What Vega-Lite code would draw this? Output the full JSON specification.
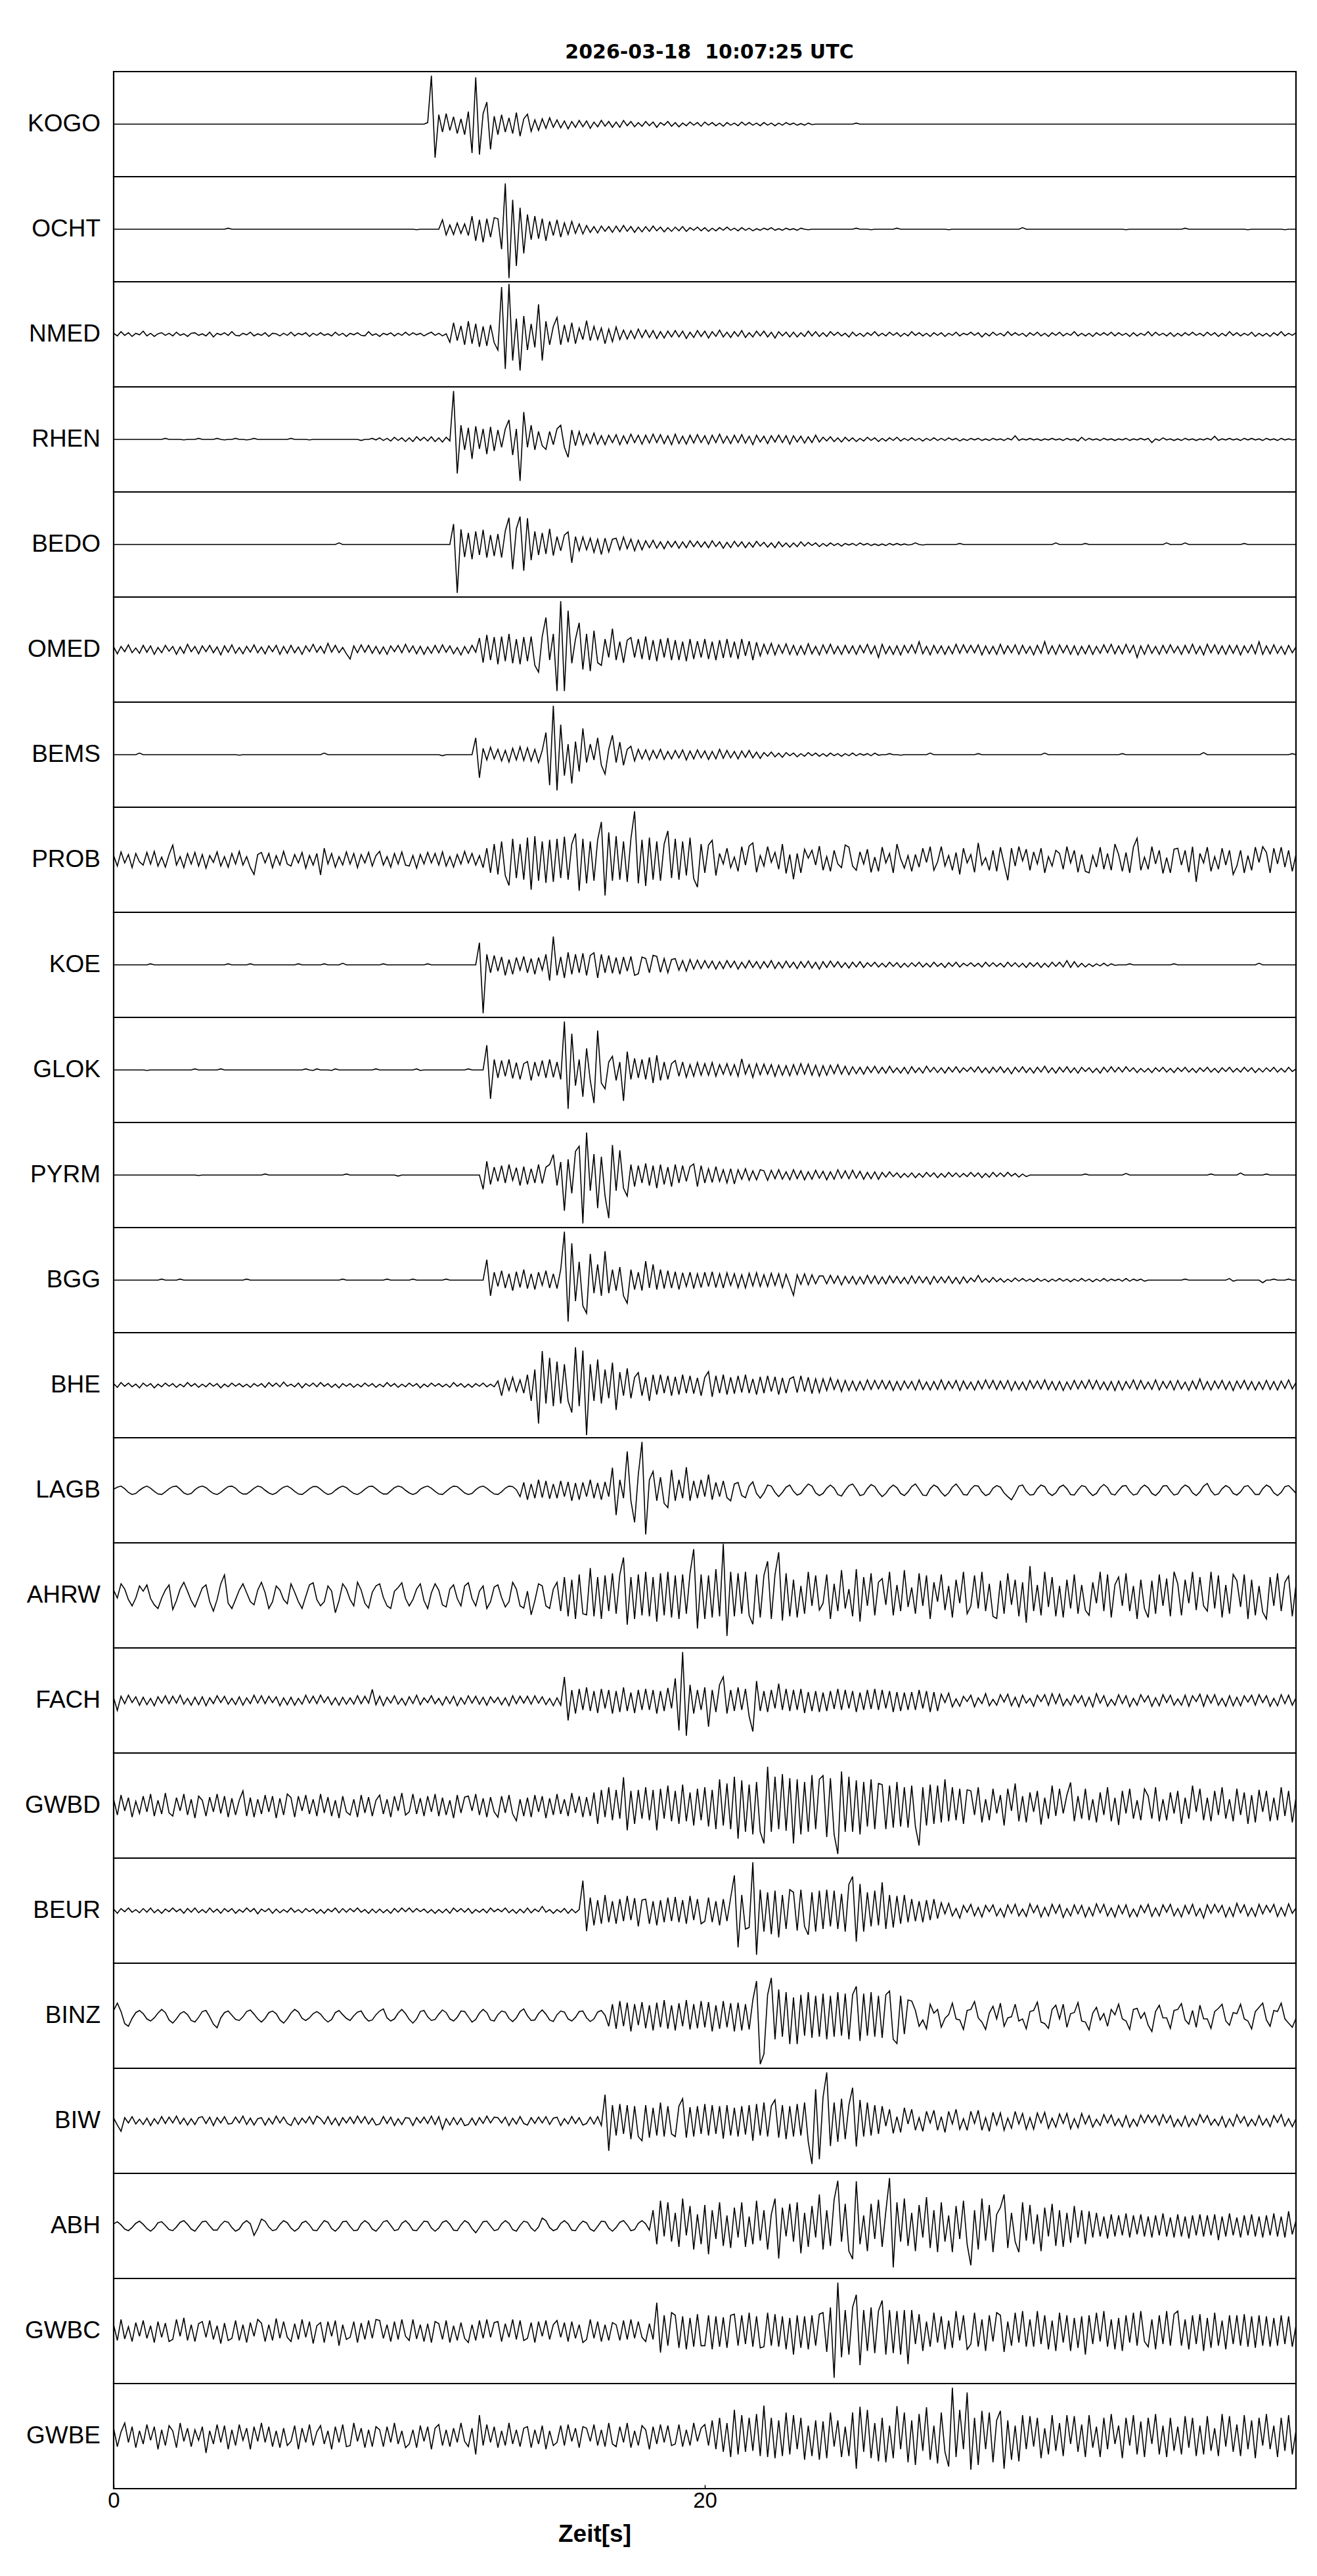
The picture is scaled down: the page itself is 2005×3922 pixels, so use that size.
{
"$schema": "https://vega.github.io/schema/vega-lite/v6.json",
"background": "white",
"bounds": "flush",
"padding": {"left": 37, "top": 64, "right": 30, "bottom": 10},
"title": {"text": "2026-03-18 \u00a010:07:25 UTC", "font": "DejaVu Sans", "fontSize": 30, "fontWeight": "bold", "color": "black", "anchor": "middle", "frame": "group", "dx": 907, "offset": 13},
"config": {"view": {"stroke": "black", "strokeWidth": 2.2}, "font": "Liberation Sans"},
"data": {"values": [{
"t": [0,0.125,0.25,0.375,0.5,0.625,0.75,0.875,
1,1.125,1.25,1.375,1.5,1.625,1.75,1.875,
2,2.125,2.25,2.375,2.5,2.625,2.75,2.875,
3,3.125,3.25,3.375,3.5,3.625,3.75,3.875,
4,4.125,4.25,4.375,4.5,4.625,4.75,4.875,
5,5.125,5.25,5.375,5.5,5.625,5.75,5.875,
6,6.125,6.25,6.375,6.5,6.625,6.75,6.875,
7,7.125,7.25,7.375,7.5,7.625,7.75,7.875,
8,8.125,8.25,8.375,8.5,8.625,8.75,8.875,
9,9.125,9.25,9.375,9.5,9.625,9.75,9.875,
10,10.125,10.25,10.375,10.5,10.625,10.75,10.875,
11,11.125,11.25,11.375,11.5,11.625,11.75,11.875,
12,12.125,12.25,12.375,12.5,12.625,12.75,12.875,
13,13.125,13.25,13.375,13.5,13.625,13.75,13.875,
14,14.125,14.25,14.375,14.5,14.625,14.75,14.875,
15,15.125,15.25,15.375,15.5,15.625,15.75,15.875,
16,16.125,16.25,16.375,16.5,16.625,16.75,16.875,
17,17.125,17.25,17.375,17.5,17.625,17.75,17.875,
18,18.125,18.25,18.375,18.5,18.625,18.75,18.875,
19,19.125,19.25,19.375,19.5,19.625,19.75,19.875,
20,20.125,20.25,20.375,20.5,20.625,20.75,20.875,
21,21.125,21.25,21.375,21.5,21.625,21.75,21.875,
22,22.125,22.25,22.375,22.5,22.625,22.75,22.875,
23,23.125,23.25,23.375,23.5,23.625,23.75,23.875,
24,24.125,24.25,24.375,24.5,24.625,24.75,24.875,
25,25.125,25.25,25.375,25.5,25.625,25.75,25.875,
26,26.125,26.25,26.375,26.5,26.625,26.75,26.875,
27,27.125,27.25,27.375,27.5,27.625,27.75,27.875,
28,28.125,28.25,28.375,28.5,28.625,28.75,28.875,
29,29.125,29.25,29.375,29.5,29.625,29.75,29.875,
30,30.125,30.25,30.375,30.5,30.625,30.75,30.875,
31,31.125,31.25,31.375,31.5,31.625,31.75,31.875,
32,32.125,32.25,32.375,32.5,32.625,32.75,32.875,
33,33.125,33.25,33.375,33.5,33.625,33.75,33.875,
34,34.125,34.25,34.375,34.5,34.625,34.75,34.875,
35,35.125,35.25,35.375,35.5,35.625,35.75,35.875,
36,36.125,36.25,36.375,36.5,36.625,36.75,36.875,
37,37.125,37.25,37.375,37.5,37.625,37.75,37.875,
38,38.125,38.25,38.375,38.5,38.625,38.75,38.875,
39,39.125,39.25,39.375,39.5,39.625,39.75,39.875,
40],
"KOGO": [0,0,0,0,0,0,0,0,
0,0,0,0,0,0,0,0,
0,0,0,0,0,0,0,0,
0,0,0,0,0,0,0,0,
0,0,0,0,0,0,0,0,
0,0,0,0,0,0,0,0,
0,0,0,0,0,0,0,0,
0,0,0,0,0,0,0,0,
0,0,0,0,0,0,0,0,
0,0,0,0,0,0,0,0,
0,0,0,0,0,3,92,-64,
18,-15,20,-12,14,-18,10,-20,
24,-55,89,-58,20,42,-48,15,
-20,18,-15,12,-18,22,-23,10,
19,-14,8,-12,10,-8,12,-6,
8,-7,6,-9,5,-6,7,-5,
6,-8,4,-5,7,-4,5,-6,
4,-6,7,-3,5,-5,3,-4,
5,-3,4,-6,3,-2,5,-4,
3,-5,2,-3,4,-2,3,-4,
4,-2,3,-3,2,-4,3,-2,
2,-3,4,-2,3,-2,2,-3,
3,-2,2,-3,2,-2,3,-1,
2,-2,1,-2,2,-1,0,0,
0,0,0,0,0,0,0,0,
0,2,0,0,0,0,0,0,
0,0,0,0,0,0,0,0,
0,0,0,0,0,0,0,0,
0,0,0,0,0,0,0,0,
0,0,0,0,0,0,0,0,
0,0,0,0,0,0,0,0,
0,0,0,0,0,0,0,0,
0,0,0,0,0,0,0,0,
0,0,0,0,0,0,0,0,
0,0,0,0,0,0,0,0,
0,0,0,0,0,0,0,0,
0,0,0,0,0,0,0,0,
0,0,0,0,0,0,0,0,
0,0,0,0,0,0,0,0,
0,0,0,0,0,0,0,0,
0],
"OCHT": [0,0,0,0,0,0,0,0,
0,0,0,0,0,0,0,0,
0,0,0,0,0,0,0,0,
0,0,0,0,0,0,0,2,
0,0,0,0,0,0,0,0,
0,0,0,0,0,0,0,0,
0,0,0,0,0,0,0,0,
0,0,0,0,0,0,0,0,
0,0,0,0,0,0,0,0,
0,0,0,0,0,0,0,0,
0,0,-1,0,0,0,0,0,
0,18,-11,8,-10,12,-8,10,
-12,25,-22,18,-25,20,-15,22,
20,-38,87,-93,56,-70,41,-46,
28,-20,25,-18,20,-22,15,-12,
18,-15,12,-10,15,-8,10,-9,
7,-6,5,-7,6,-4,5,-6,
6,-5,7,-4,5,-6,4,-5,
5,-4,6,-3,4,-5,3,-4,
4,-3,5,-4,3,-2,4,-3,
3,-4,2,-3,3,-2,4,-2,
2,-3,3,-2,2,-3,1,-2,
2,-1,3,-2,1,-2,2,-1,
1,-2,2,0,-1,0,0,0,
0,0,0,0,0,0,0,0,
0,2,0,0,0,-1,0,0,
0,0,0,0,2,0,0,0,
0,0,0,0,0,0,0,0,
0,0,-1,0,0,0,0,0,
0,0,0,0,0,0,0,0,
0,0,0,0,0,0,3,0,
0,0,0,0,0,0,0,0,
0,0,0,0,0,0,0,0,
0,0,0,0,0,0,0,0,
0,0,-1,0,0,0,0,0,
0,0,0,0,0,0,0,0,
0,0,2,0,0,0,0,0,
0,0,0,0,0,0,0,0,
0,0,0,-1,0,0,0,0,
0,0,0,0,0,-1,0,0,
0],
"NMED": [2,-3,5,-2,3,-4,2,-1,
6,-3,2,-4,1,3,-2,2,
-3,4,-2,1,-4,2,3,-2,
1,-3,4,-5,2,-1,3,-2,
5,-2,-3,2,-1,4,-3,1,
-2,3,-4,2,1,-3,2,-2,
4,-3,2,-1,3,-4,2,-2,
3,-2,1,-3,4,-2,2,-4,
2,-1,3,-2,-3,5,-2,1,
-4,2,-1,3,-3,2,-2,4,
-2,3,-1,2,-3,1,4,-2,
2,-3,1,-15,22,-12,16,-20,
25,-18,20,-24,15,-22,18,-16,
-30,90,-66,96,-50,30,-69,35,
-30,20,-25,57,-50,25,-20,15,
32,-20,18,-15,22,-18,12,-10,
26,-12,15,-10,12,-18,10,-14,
14,-10,8,-9,7,-8,10,-6,
8,-6,7,-8,5,-7,6,-5,
7,-5,6,-8,4,-6,7,-4,
6,-7,5,-4,8,-5,4,-6,
5,-4,7,-6,3,-5,6,-3,
6,-5,4,-7,5,-3,4,-5,
4,-5,3,-4,6,-3,5,-4,
3,-4,5,-2,4,-3,2,-5,
4,-3,2,-4,3,-2,5,-3,
2,-3,4,-2,3,-4,2,-3,
5,-2,3,-3,2,-4,3,-2,
3,-4,2,-2,4,-3,2,-1,
4,-2,3,-5,2,-3,4,-2,
2,-3,5,-2,3,-2,2,-4,
3,-2,4,-3,2,-4,3,-2,
4,-3,2,-2,5,-3,2,-3,
2,-4,3,-2,3,-2,4,-3,
3,-2,2,-4,3,-3,2,-2,
5,-3,4,-2,2,-3,3,-4,
2,-3,3,-2,4,-2,2,-3,
4,-2,3,-4,2,-3,5,-2,
3,-3,2,-2,4,-4,2,-3,
2,-4,3,-2,5,-3,2,-2,
3],
"RHEN": [0,0,0,0,0,0,0,0,
0,0,0,0,0,0,2,0,
0,0,0,-1,0,0,0,2,
0,0,0,0,2,0,-1,0,
0,2,0,0,-1,0,2,0,
0,0,0,0,0,0,0,0,
2,0,0,0,0,-1,0,0,
0,0,0,0,0,0,0,0,
0,0,0,-2,0,0,2,-1,
3,-2,2,-3,4,-2,3,-4,
3,-4,5,-2,4,-3,5,-4,
3,-5,4,-3,92,-65,27,-20,
22,-37,25,-18,20,-28,24,-22,
18,-15,20,37,-30,20,-79,52,
-15,27,-20,15,-12,-19,15,-10,
20,27,-15,-34,18,-12,15,-10,
10,-8,12,-9,7,-10,8,-6,
9,-10,7,-8,10,-6,8,-9,
8,-7,10,-6,9,-8,7,-10,
10,-8,6,-9,8,-7,9,-6,
7,-9,8,-6,10,-7,6,-8,
8,-6,9,-7,6,-10,8,-5,
6,-8,7,-5,8,-6,7,-9,
7,-5,6,-7,5,-6,8,-5,
4,-3,5,-4,3,-5,4,-3,
3,-4,2,-3,4,-2,3,-4,
2,-3,3,-2,4,-3,2,-2,
3,-2,2,-3,2,-2,3,-2,
2,-2,3,-1,2,-3,1,-2,
2,-1,2,-2,1,-2,2,-1,
1,-2,2,-1,7,-2,1,-1,
2,-1,1,-2,1,-1,2,-1,
1,-2,2,-1,1,-3,4,-2,
2,-1,1,-2,2,-1,1,-2,
1,-1,2,-2,1,-1,2,-1,
2,-6,1,-2,3,-1,1,-2,
1,-2,2,-1,1,-2,1,-1,
2,-1,6,-2,1,-1,2,-1,
1,-2,2,-1,2,-1,1,-2,
2,-1,1,-2,2,-1,1,-1,
0],
"BEDO": [0,0,0,0,0,0,0,0,
0,0,0,0,0,0,0,0,
0,0,0,0,0,0,0,0,
0,0,0,0,0,0,0,0,
0,0,0,0,0,0,0,0,
0,0,0,0,0,0,0,0,
0,0,0,0,0,0,0,0,
0,0,0,0,0,3,0,0,
0,0,0,0,0,0,0,0,
0,0,0,0,0,0,0,0,
0,0,0,0,0,0,0,0,
0,0,0,0,39,-92,29,-24,
22,-28,25,-20,28,-25,18,-22,
20,-25,26,51,-47,30,53,-50,
50,-30,25,-20,22,-18,30,-21,
15,-12,18,24,-35,15,-12,14,
-10,12,-15,10,-19,12,-14,10,
12,-10,14,-8,10,-12,8,-10,
7,-6,8,-7,5,-8,6,-5,
6,-7,5,-6,7,-4,6,-5,
5,-6,7,-4,5,-7,4,-6,
6,-4,5,-6,4,-5,6,-3,
4,-5,3,-6,5,-4,3,-5,
3,-4,5,-3,4,-2,3,-4,
2,-3,3,-2,2,-3,2,-1,
2,-2,3,-1,2,-2,1,-2,
1,-2,2,-1,2,-1,1,-1,
0,3,0,-1,0,0,0,0,
0,0,0,0,0,2,0,0,
0,0,0,0,0,0,0,0,
0,0,0,0,0,0,0,0,
0,0,0,0,0,0,0,3,
0,0,0,0,0,0,0,2,
0,0,0,0,0,0,0,0,
0,0,0,0,0,0,0,0,
0,0,0,0,0,3,0,0,
0,0,3,0,0,0,0,0,
0,0,0,0,0,0,0,0,
0,0,2,0,0,0,0,0,
0,0,0,0,0,0,0,0,
0],
"OMED": [5,-8,6,-4,9,-6,3,-7,
8,-5,7,-9,4,-6,8,-3,
6,-9,5,-7,10,-4,6,-8,
7,-4,8,-6,5,-10,7,-5,
9,-7,4,-8,6,-5,9,-6,
5,-8,7,-4,8,-9,6,-7,
8,-6,5,-9,7,-4,10,-5,
6,-7,12,-5,8,-6,4,-8,
-18,7,-6,9,-5,8,-7,6,
-8,5,-9,7,-4,8,-6,10,
-5,7,-8,6,-9,5,-7,8,
-6,9,-5,7,-8,4,-10,6,
-7,8,-5,22,-25,28,-20,24,
-28,25,-22,30,-26,20,-28,24,
-22,25,-30,-43,25,61,-20,30,
-79,92,-79,74,-26,20,51,-38,
30,-41,36,-25,-30,20,-15,40,
-20,15,-25,18,23,-15,20,-18,
25,-20,18,-22,20,-15,22,-20,
18,-20,15,-22,20,-18,16,-15,
20,-18,15,-20,18,-16,20,-15,
15,-18,20,-12,16,-20,14,-12,
10,-8,12,-10,9,-7,11,-9,
8,-10,7,-9,11,-8,6,-10,
9,-7,10,-8,6,-9,8,-7,
7,-9,8,-6,10,-8,7,-15,
10,-8,6,-9,7,-10,8,-6,
9,-7,15,-8,6,-10,8,-7,
7,-9,6,-8,10,-7,9,-6,
8,-6,9,-10,7,-8,6,-9,
10,-8,7,-6,9,-9,8,-7,
6,-10,8,-7,15,-8,7,-9,
9,-6,8,-9,7,-10,6,-8,
8,-9,6,-7,9,-6,10,-8,
7,-8,10,-6,8,-15,7,-9,
9,-7,6,-9,8,-7,9,-6,
6,-9,8,-7,10,-8,6,-10,
10,-6,9,-8,7,-9,8,-7,
8,-10,7,-6,9,-8,15,-9,
7,-8,9,-7,6,-9,8,-6,
5],
"BEMS": [0,0,0,0,0,0,0,3,
0,0,0,0,0,0,0,0,
0,0,0,0,0,0,0,0,
0,0,0,0,0,0,0,0,
0,0,-1,0,0,0,0,0,
0,0,0,0,0,0,0,0,
0,0,0,0,0,0,0,0,
0,3,0,0,0,0,0,0,
0,0,0,0,0,0,0,0,
0,0,0,0,0,0,0,0,
0,0,0,0,0,0,0,0,
0,-2,0,0,0,0,0,0,
0,0,32,-44,12,-10,14,-8,
10,-12,8,-14,12,-10,15,-11,
13,-12,10,-15,8,42,-58,93,
-68,57,-40,20,-55,25,-32,50,
-15,20,-10,32,-20,-37,10,37,
-15,24,-20,10,16,-12,10,-8,
9,-10,8,-7,10,-9,6,-8,
8,-6,9,-10,7,-8,9,-6,
7,-9,6,-8,10,-7,8,-6,
6,-8,7,-5,8,-6,5,-7,
4,-3,5,-4,3,-5,4,-2,
3,-4,2,-3,4,-2,3,-3,
2,-3,3,-2,2,-3,2,-2,
3,-2,2,-1,2,-2,3,-1,
0,0,2,0,0,-1,0,0,
0,0,0,0,0,3,0,0,
0,0,0,0,0,0,0,0,
0,0,2,0,0,0,0,0,
0,0,0,0,0,0,0,0,
0,0,0,0,3,0,0,0,
0,0,0,0,0,0,0,0,
0,0,0,0,0,0,0,0,
0,2,0,0,0,0,0,0,
0,0,0,0,0,0,0,0,
0,0,0,0,0,0,0,4,
0,0,0,0,0,0,0,0,
0,0,0,0,0,0,0,0,
0,0,0,0,0,0,0,2,
0],
"PROB": [8,-12,15,-6,10,-15,12,-4,
-10,14,-8,16,-12,5,-14,10,
28,-10,6,-15,12,-8,14,-12,
10,-16,8,-5,15,-12,6,-14,
12,-8,16,-10,6,-15,-28,10,
14,-6,12,-15,8,-10,16,-8,
-12,10,-6,14,-16,8,-10,12,
-29,22,-8,12,-14,6,-10,15,
-8,12,-15,10,-6,14,-12,8,
16,-10,6,-14,12,-8,15,-10,
-12,8,-16,10,-8,14,-6,12,
-10,15,-12,6,-14,10,-8,16,
-6,12,-10,8,-15,22,-25,30,
-28,35,-30,-49,40,-35,30,-38,
42,-57,45,-40,35,-44,38,-42,
40,-35,44,-38,30,50,-59,40,
-45,35,-40,38,72,-68,52,-40,
45,-38,35,-42,40,92,-45,38,
-50,42,-38,35,-40,30,55,-35,
40,-38,35,-30,42,-36,-52,30,
-25,28,37,-30,12,-8,22,-15,
5,-22,25,-10,26,32,-24,8,
-12,25,-5,14,-18,30,-26,10,
-37,12,-25,20,3,18,-10,26,
-20,6,-22,18,-8,-15,28,24,
-12,-20,15,-8,20,-24,5,-22,
24,-6,12,-25,30,2,-16,8,
-22,10,-14,22,-5,25,-20,-4,
25,-12,8,-20,14,-28,22,-6,
10,-24,32,-10,4,-20,18,-22,
24,-8,-39,22,-12,25,-2,20,
-20,15,-8,22,-25,6,-12,18,
12,-18,25,-6,18,-24,10,-22,
-25,8,-14,24,-18,12,-20,30,
10,-22,14,-25,24,41,-20,5,
-18,25,-8,18,-26,4,-25,20,
22,-10,18,-24,25,-42,12,-6,
24,-22,6,-18,22,-10,18,-28,
-12,18,-25,8,-20,24,-5,25,
14,-25,22,-8,24,-14,18,-22,
10],
"KOE": [0,0,0,0,0,0,0,0,
0,0,2,0,0,0,0,0,
0,0,0,0,0,0,0,0,
0,0,0,0,0,0,0,2,
0,0,0,0,0,2,0,0,
0,0,0,0,0,0,0,0,
0,0,2,0,0,0,0,0,
0,2,0,0,0,0,3,0,
0,0,0,0,0,0,0,0,
0,2,0,0,0,0,0,0,
0,0,0,0,0,2,0,0,
0,0,0,0,0,0,0,0,
0,0,0,42,-92,20,-15,18,
-12,15,-20,10,-18,14,-10,16,
-15,12,-18,14,-10,20,-30,54,
-20,15,-25,24,-18,20,-15,22,
-20,18,23,-25,20,-15,18,-16,
14,-18,15,-12,16,-20,-17,15,
12,-15,18,16,-14,12,-15,10,
12,-10,8,-12,10,-8,9,-7,
8,-6,7,-8,6,-7,8,-5,
7,-8,5,-6,8,-5,6,-7,
6,-5,8,-7,5,-6,7,-5,
5,-7,6,-5,7,-6,5,-8,
6,-5,7,-4,6,-5,4,-6,
5,-4,6,-5,4,-3,5,-4,
3,-4,5,-3,4,-5,3,-4,
4,-3,5,-4,3,-4,5,-3,
3,-5,4,-3,5,-4,3,-2,
4,-3,3,-4,5,-3,4,-3,
3,-4,5,-3,4,-4,3,-5,
4,-3,4,-5,3,-4,5,-3,
5,-4,8,-5,6,-4,3,-4,
2,-3,2,-2,3,-2,2,-1,
0,0,0,2,0,0,0,0,
0,0,0,0,0,0,0,2,
0,0,0,0,0,0,0,0,
0,0,0,0,0,0,0,0,
0,0,0,0,0,0,3,0,
0,0,0,0,0,0,0,0,
0],
"GLOK": [0,0,0,0,0,0,0,0,
0,-1,0,0,0,0,0,0,
0,0,0,0,0,0,2,0,
0,0,0,0,0,2,0,0,
0,0,0,0,0,0,0,0,
0,0,0,0,0,0,0,0,
0,0,0,0,2,0,-1,2,
0,0,0,-1,2,0,0,0,
0,0,0,0,0,0,0,2,
0,0,0,0,0,0,0,0,
0,0,2,-1,0,0,0,0,
0,0,0,0,0,0,0,0,
2,0,0,0,0,47,-55,20,
-15,18,-12,20,-16,14,-18,12,
16,-20,15,-12,18,-15,20,-14,
15,-18,92,-74,69,-30,20,-51,
41,-20,-63,75,-25,-36,15,26,
-20,15,-59,35,-18,22,-15,20,
-18,24,-25,28,-20,15,-18,12,
18,-12,15,-14,10,-12,14,-10,
12,-10,14,-12,10,-8,12,-10,
10,-12,21,-8,10,-14,12,-9,
11,-8,10,-12,9,-10,8,-11,
10,-9,12,-8,11,-10,9,-12,
8,-10,9,-7,10,-8,7,-9,
6,-7,5,-8,6,-5,7,-6,
5,-6,7,-5,4,-6,5,-7,
6,-5,4,-6,7,-4,5,-5,
4,-6,5,-4,6,-5,4,-3,
5,-4,6,-5,4,-6,5,-4,
6,-5,4,-7,5,-4,6,-5,
4,-6,5,-4,7,-5,4,-6,
5,-4,6,-5,4,-6,5,-3,
4,-5,3,-6,5,-4,6,-4,
5,-4,6,-3,4,-5,3,-4,
3,-5,4,-3,5,-4,3,-5,
4,-3,5,-4,3,-5,4,-3,
5,-4,3,-5,4,-3,5,-4,
3,-4,5,-3,4,-5,3,-4,
4,-3,5,-4,3,-4,5,-3,
2],
"PYRM": [0,0,0,0,0,0,0,0,
0,0,0,0,0,0,0,0,
0,0,0,0,0,0,0,-1,
0,0,0,0,0,0,0,0,
0,0,0,0,0,0,0,0,
0,2,0,0,0,0,0,0,
0,0,0,0,0,0,0,0,
0,0,0,0,0,0,0,2,
0,0,0,0,0,0,0,0,
0,0,0,0,0,-2,0,0,
0,0,0,0,0,0,0,0,
0,0,0,0,0,0,0,0,
0,0,0,0,-27,26,-18,15,
-12,18,-15,20,-10,14,-20,16,
-18,12,-15,20,-16,15,20,39,
-20,25,-68,30,-35,45,55,-92,
81,-30,40,-63,35,-40,-82,57,
-30,47,-25,-40,20,-22,18,-15,
22,-20,18,-25,20,-18,15,-22,
20,-15,18,-12,16,21,-22,18,
-15,12,-14,16,-12,10,-15,12,
-17,10,-8,12,-10,8,-9,10,
8,-10,9,-7,10,-8,6,-9,
10,-7,8,-9,6,-8,9,-6,
7,-9,6,-8,10,-6,8,-7,
9,-6,7,-8,5,-7,6,-8,
5,-4,6,-3,4,-5,3,-4,
4,-5,3,-4,5,-3,4,-5,
3,-4,5,-3,4,-4,3,-3,
5,-3,4,-5,3,-4,5,-3,
4,-3,5,-2,3,-4,2,-3,
0,0,0,0,0,0,0,0,
0,0,0,0,0,0,0,2,
0,0,0,0,0,0,0,0,
0,0,3,0,0,0,0,0,
0,0,0,0,0,0,0,0,
0,0,0,0,0,0,0,0,
0,2,0,0,0,0,0,0,
0,4,0,0,0,0,0,0,
2,0,0,0,0,0,0,0,
0],
"BGG": [0,0,0,0,0,0,0,0,
0,0,0,0,0,2,0,0,
0,0,2,0,0,0,0,0,
0,0,0,0,0,0,0,0,
0,0,0,0,2,0,0,0,
0,0,0,0,0,0,0,0,
0,0,0,0,0,0,0,0,
0,0,0,0,0,0,2,0,
0,0,0,0,0,0,0,0,
0,0,2,0,0,0,0,0,
0,2,0,0,0,0,0,0,
0,0,2,0,0,0,0,0,
0,0,0,0,0,39,-30,15,
-12,18,-15,12,-20,16,-14,20,
-16,12,-18,15,-10,18,-15,12,
-16,20,92,-79,70,-40,35,-49,
-63,50,-25,30,-30,55,-25,20,
-20,25,-30,-44,20,-18,15,-20,
36,-15,30,-18,20,-16,18,-15,
16,-18,14,-12,15,-16,12,-14,
15,-12,16,-14,12,-15,14,-10,
12,-14,10,-15,13,-11,14,-12,
10,-12,13,-10,12,-14,11,-9,
-29,10,-8,12,-9,10,-7,8,
8,-7,9,-6,8,-9,7,-6,
7,-8,6,-7,9,-6,8,-7,
6,-7,8,-5,7,-6,5,-7,
8,-6,7,-5,6,-8,7,-5,
6,-5,7,-6,5,-7,6,-5,
4,-3,9,-4,3,-4,5,-3,
3,-4,2,-3,4,-2,3,-2,
2,-3,3,-2,2,-3,2,-2,
3,-2,2,-3,2,-2,3,-2,
2,-3,2,-2,3,-2,2,-1,
2,-2,3,-2,2,-1,2,-2,
0,0,0,0,0,0,0,0,
0,0,2,0,0,0,0,0,
0,0,0,0,0,0,3,-2,
0,0,0,0,0,0,0,-5,
0,0,2,0,0,0,2,0,
0],
"BHE": [3,-4,5,-2,4,-3,2,-5,
4,-2,3,-5,2,-3,4,-2,
3,-4,2,-3,5,-2,3,-4,
2,-3,4,-2,3,-5,2,-3,
4,-2,3,-3,2,-4,3,-2,
3,-4,5,-2,4,-3,6,-2,
2,-3,4,-5,3,-2,4,-3,
5,-2,3,-4,2,-5,3,-2,
3,-4,2,-3,4,-2,3,-4,
2,-3,5,-2,3,-4,2,-3,
4,-2,3,-5,2,-3,4,-2,
3,-3,2,-4,5,-2,3,-4,
2,-4,3,-2,4,-3,2,-3,
8,-20,12,-10,15,-12,10,-15,
20,-30,30,-73,65,-35,52,-40,
45,-35,40,-30,-52,72,-40,66,
-95,40,-30,49,-35,30,-25,43,
-47,25,-20,32,-25,15,24,-20,
15,-30,20,-18,20,-15,18,-20,
16,-18,20,-15,18,-16,14,-20,
15,26,-22,18,-15,20,-18,15,
-16,18,-14,20,-15,12,-18,16,
-15,18,-12,16,-18,14,-15,12,
16,-14,18,-12,15,-16,12,-14,
12,-10,14,-8,10,-12,9,-10,
8,-10,7,-9,10,-8,9,-7,
9,-7,8,-10,7,-9,8,-6,
7,-9,10,-8,6,-9,7,-8,
10,-8,7,-6,9,-10,8,-7,
6,-9,8,-7,10,-6,9,-8,
8,-7,9,-10,7,-8,6,-9,
9,-6,8,-7,10,-8,7,-9,
7,-10,6,-8,9,-7,8,-6,
10,-7,9,-8,6,-9,7,-10,
8,-9,7,-6,10,-8,9,-7,
6,-8,10,-9,7,-6,8,-9,
9,-7,6,-10,8,-7,12,-8,
7,-9,8,-6,9,-8,7,-10,
8,-6,9,-8,7,-9,6,-8,
9,-8,7,-9,8,-6,10,-7,
5],
"LAGB": [2,6,8,3,-4,-8,-6,0,
5,8,4,-2,-7,-8,-3,3,
7,8,2,-5,-8,-6,1,6,
8,5,-1,-6,-8,-4,2,7,
8,4,-3,-7,-7,-2,4,8,
6,0,-5,-8,-5,1,6,8,
4,-2,-7,-8,-3,3,7,7,
2,-4,-8,-6,0,5,8,5,
-1,-6,-8,-4,2,7,8,3,
-3,-7,-7,-1,5,8,6,0,
-5,-8,-5,2,6,8,4,-2,
-7,-8,-2,4,8,7,1,-5,
-8,-6,1,6,8,4,-2,-7,
-8,-3,4,8,7,1,-12,15,
-18,12,-15,20,-14,18,-16,12,
-15,18,-12,16,-20,14,-18,15,
-12,20,-15,14,-18,16,-12,43,
-47,20,-15,74,-20,-61,30,92,
-84,20,36,-20,25,-25,-33,39,
-20,20,-15,44,-20,18,-15,20,
-12,30,-18,15,-12,18,-14,-20,
12,15,-10,-14,8,16,-6,-15,
-5,10,8,-4,-12,-4,6,10,
-2,-9,-6,4,12,8,-5,-10,
-6,4,10,4,-8,-11,0,9,
12,2,-10,-8,3,11,7,-4,
-12,-6,4,10,5,-6,-10,-3,
7,12,2,-9,-10,3,10,6,
-4,-11,-5,6,12,3,-8,-9,
2,9,8,-3,-10,-7,4,9,
6,-5,-12,-18,-6,8,10,-2,
-9,-8,3,10,7,-5,-10,-5,
6,10,3,-8,-9,1,9,7,
-3,-10,-6,5,11,5,-7,-9,
0,8,9,-2,-9,-7,4,10,
5,-6,-10,-3,8,9,-1,-9,
-7,4,10,6,-5,-10,-3,8,
13,-1,-9,-7,3,9,5,-6,
-9,-3,7,9,1,-8,-8,3,
10,6,-5,-10,-4,7,9,2,
-6],
"AHRW": [10,-5,22,12,-8,-20,-5,18,
8,20,-6,-18,-25,-5,10,20,
-27,-10,12,25,8,-10,-22,-4,
14,20,-12,-30,-8,22,39,-15,
-25,-8,10,22,5,-12,-18,10,
25,5,-25,-12,18,10,-8,-16,
22,6,-12,-25,-2,20,24,-8,
-20,-12,18,8,-33,-10,22,12,
-8,-20,25,10,-15,-24,6,18,
22,-4,-20,-25,8,15,24,-6,
-20,-8,12,22,-10,-25,5,22,
10,-18,-22,12,20,-6,-20,18,
24,-6,-20,8,18,-25,-12,16,
20,-4,-22,-12,25,12,-20,-24,
8,-37,-10,22,18,-20,-25,12,
25,-30,35,-40,30,-45,40,-35,
-37,52,-40,35,-45,38,-30,42,
-35,40,72,-56,35,-45,40,-38,
45,-40,35,-50,42,-38,45,-42,
38,-45,40,-35,42,88,-63,40,
-45,38,-42,50,-40,98,-77,45,
-40,42,-35,45,-38,-55,40,-42,
38,65,-45,40,82,-48,42,-40,
30,-42,18,-35,45,-20,38,-28,
-15,40,-45,22,-30,48,-25,12,
-40,50,-50,35,-20,42,-38,25,
32,-18,45,-38,20,-30,48,-22,
15,-35,42,-20,38,-45,25,-12,
40,-28,18,-42,30,-15,45,-35,
-20,38,-25,45,-30,22,-40,-44,
28,-35,42,-18,30,-40,25,-52,
56,-30,20,-38,45,-22,35,-40,
18,-42,30,-25,40,-35,20,-28,
-38,25,-15,45,-30,40,-42,20,
35,-20,42,-30,18,-45,30,-25,
-42,28,-35,40,-20,32,-40,45,
22,-38,30,-15,45,-28,35,-20,
-30,45,-25,38,-42,20,-35,40,
28,-22,40,-45,30,-38,18,-32,
-45,35,-20,42,-30,25,37,-40,
20],
"FACH": [5,-19,8,-6,10,-4,7,-9,
6,-8,4,-10,7,-5,9,-6,
8,-5,10,-7,4,-9,6,-8,
7,-10,5,-6,9,-4,8,-7,
4,-8,7,-9,5,-6,10,-5,
9,-6,8,-4,7,-10,5,-8,
6,-9,4,-7,10,-5,8,-6,
10,-4,7,-8,5,-9,6,-7,
5,-7,9,-6,8,-5,21,-8,
8,-10,6,-5,9,-7,4,-9,
7,-6,10,-8,5,-4,9,-6,
4,-9,7,-6,8,-10,5,-7,
9,-5,8,-7,6,-9,7,-4,
6,-8,5,-10,9,-6,8,-5,
8,-7,9,-5,7,-8,4,-10,
5,-9,45,-38,20,-25,22,-18,
25,-20,18,-24,22,-15,20,-25,
18,-22,25,-20,15,-24,20,-18,
22,-18,20,-25,18,-20,24,-15,
42,-57,92,-67,30,-25,20,-18,
25,-50,20,-22,30,45,-25,20,
-20,25,-18,22,-30,-59,37,-20,
18,-22,20,-15,32,-18,22,-20,
20,-18,22,-24,16,-20,18,-22,
15,-20,18,-16,22,-18,20,-15,
18,-22,15,-18,20,-16,22,-18,
20,-15,18,-22,16,-20,15,-18,
16,-18,20,-15,18,-22,16,-20,
12,-4,14,-12,3,-11,8,-2,
10,-12,5,-6,13,-10,2,-9,
11,-3,12,-10,6,-12,10,-5,
4,-11,10,-2,11,-9,13,-6,
12,-10,3,-9,10,-4,9,-11,
6,-12,13,-5,9,-11,2,-9,
11,-6,9,-12,4,-9,11,-3,
9,-11,5,-10,11,-4,10,-9,
3,-9,10,-11,9,-2,12,-11,
10,-5,11,-9,4,-11,9,-10,
6,-10,9,-3,10,-9,11,-4,
9,-11,4,-10,11,-6,10,-9,
5],
"GWBD": [12,-18,20,-10,15,-22,8,-15,
18,-12,22,-20,10,-16,24,-14,
-20,15,-10,22,-18,12,-24,18,
10,-20,16,-12,22,-15,18,-22,
14,-18,10,28,-20,15,-22,12,
-16,20,-12,18,-24,14,-18,22,
15,-22,18,-10,20,-16,12,-20,
22,-14,16,-20,10,-24,18,-12,
-18,12,-22,20,-14,16,-20,10,
20,-16,12,-22,18,-10,24,-18,
-12,22,-16,14,-20,18,-12,22,
-20,15,-18,10,-24,20,-14,16,
18,-10,22,-18,14,-22,16,-12,
-22,18,-14,20,-16,-29,12,-20,
15,-22,20,-12,18,-24,14,-18,
22,-16,12,-20,24,-14,18,-22,
16,-20,25,-35,30,-22,35,-28,
30,-25,54,-47,28,-35,30,-25,
35,-28,30,-47,32,-25,38,-30,
28,-35,40,-30,25,-38,32,-28,
35,-40,30,-45,50,-38,42,-45,
55,-63,48,-50,40,-55,45,-50,
-72,74,-50,55,-45,60,-48,52,
-72,50,-55,45,-50,58,-45,50,
57,-60,52,-55,-92,65,-50,55,
-50,48,-55,45,-40,50,-45,42,
40,-45,38,-42,45,-40,35,-42,
38,-40,-76,35,-38,40,-35,38,
-32,50,-30,35,-28,32,-35,30,
28,-18,35,-32,12,-28,32,-15,
20,-38,32,-10,42,-30,18,-32,
25,-12,28,-36,15,-25,38,-20,
32,-15,20,44,-30,18,-25,32,
-28,12,-32,25,-18,35,-30,15,
-37,28,-15,32,-25,10,-28,32,
18,-25,35,-30,12,-28,25,-15,
28,-35,15,-25,38,-12,32,-28,
15,-30,28,-18,35,-25,12,-30,
32,-18,25,-35,20,-32,30,-12,
28,-30,15,-28,35,-20,28,-32,
15],
"BEUR": [3,-5,4,-2,5,-3,2,-4,
4,-3,5,-4,2,-5,3,-2,
5,-2,3,-5,4,-3,5,-4,
2,-4,5,-3,3,-5,4,-2,
4,-5,2,-3,5,-2,4,-6,
3,-2,4,-5,3,-4,2,-3,
5,-3,2,-4,4,-2,3,-5,
2,-5,3,-2,5,-4,4,-3,
4,-2,5,-3,2,-5,3,-4,
3,-4,2,-5,4,-3,5,-2,
5,-3,4,-2,3,-4,2,-5,
2,-4,3,-5,5,-2,4,-3,
4,-5,2,-3,3,-4,5,-2,
3,-2,5,-4,2,-5,3,-4,
5,-4,3,-2,8,-3,2,-5,
2,-3,4,-5,3,-4,2,57,
-39,25,-28,20,-25,30,-22,18,
-25,22,-20,28,-18,24,-30,20,
22,-25,18,-28,20,-22,25,-20,
26,-22,20,-25,28,-18,22,-25,
-20,25,-22,18,-28,22,-20,25,
67,-70,30,-35,-32,92,-84,40,
-40,35,-45,38,-51,30,-35,40,
35,-38,40,-30,-46,35,-40,38,
-35,40,-30,38,-35,32,-40,50,
65,-59,51,-40,35,-30,38,-28,
54,-35,30,-32,28,-25,30,-22,
22,-20,18,-22,20,-18,22,-15,
15,-6,14,-10,4,-14,10,-3,
12,-10,6,-12,10,-2,11,-10,
4,-12,11,-5,12,-10,3,-11,
13,-4,10,-12,6,-10,12,-5,
11,-13,4,-10,11,-6,10,-12,
6,-10,13,-4,12,-10,5,-12,
10,-6,11,-12,3,-11,10,-4,
12,-11,5,-10,11,-3,12,-10,
4,-12,10,-6,12,-10,4,-14,
11,-5,12,-3,10,-12,6,-11,
14,-4,11,-10,5,-11,12,-6,
10,-3,12,-11,6,-10,13,-5,
5],
"BINZ": [10,24,8,-15,-20,-5,6,10,
4,-6,-10,-4,5,12,6,-8,
-14,-6,4,8,2,-9,-12,-3,
8,10,-2,-16,-23,-4,6,9,
1,-7,-9,-2,8,11,3,-6,
-12,-5,6,9,4,-8,-14,-6,
5,12,7,-5,-9,-4,4,8,
3,-6,-12,-7,6,10,2,-5,
-9,0,7,9,-3,-10,-8,2,
9,13,-4,-10,-6,5,12,4,
-7,-14,-6,8,10,-2,-9,-7,
3,11,6,-6,-10,-3,9,8,
-2,-12,-7,5,12,6,-8,-10,
2,9,7,-5,-11,-4,8,13,
0,-9,-8,4,11,3,-8,-11,
2,9,7,-6,-10,-3,8,9,
-4,-11,-6,7,10,1,-20,22,
-25,28,-20,25,-30,22,-18,26,
-24,20,-28,25,-22,30,-25,20,
-28,24,-20,30,-26,22,-24,28,
-22,26,-30,20,-25,28,-22,24,
-30,25,-28,22,-26,30,66,-92,
-73,40,72,-45,50,-40,45,-54,
35,-54,40,-38,45,-42,38,-40,
42,-45,38,-40,45,-38,42,-45,
40,56,-48,42,-38,45,-40,38,
-42,40,47,-45,-53,38,-35,30,
28,10,-20,-8,-25,22,5,12,
-22,-5,2,24,-6,-8,-26,10,
12,27,-4,-12,-26,5,18,-6,
24,-20,-4,-2,22,-10,-6,-25,
8,10,26,-12,-15,-24,12,20,
-6,22,-22,4,6,25,-10,-12,
-27,5,16,-8,4,-20,12,2,
22,-6,-10,-26,12,14,-5,6,
-18,-30,8,20,-4,-4,-24,10,
12,23,-8,-16,10,-22,20,-6,
-6,-24,8,14,22,-10,-18,6,
4,22,-6,-10,-25,8,16,24,
-8,-20,10,8,24,-6,-14,-22,
-5],
"BIW": [5,-8,-20,6,-4,8,-6,3,
-7,5,-9,4,-6,8,-5,7,
-4,9,-6,5,-8,4,-7,6,
8,-5,7,-9,6,-4,8,-6,
-5,7,-4,9,-7,5,-8,4,
6,-8,5,-6,9,-4,7,-5,
-9,6,-7,5,-4,8,-6,9,
4,-6,8,-7,5,-9,6,-4,
7,-5,9,-4,8,-6,5,-8,
-6,8,-5,7,-9,4,-7,6,
5,-9,6,-4,7,-5,9,-7,
8,-16,4,-8,6,-7,5,-9,
-7,5,-8,6,-5,9,-4,7,
6,-4,7,-9,5,-6,8,-5,
-8,6,-5,7,-4,8,-7,5,
7,-9,4,-6,8,-5,6,-8,
-5,7,-6,8,-9,50,-57,30,
-28,32,-25,30,-35,28,-30,-38,
30,-32,25,-28,35,-30,28,-25,
-30,28,42,-32,26,-30,28,-25,
32,-28,30,-25,28,-34,30,-28,
25,-30,28,-26,30,-38,32,-28,
35,-30,28,40,-32,30,-35,28,
-30,32,-28,35,-40,-82,60,-73,
45,92,-48,35,-40,42,-35,30,
63,-49,40,-30,35,-28,30,-25,
28,-10,22,-24,8,-22,25,-6,
22,-18,6,-20,18,-4,20,-18,
8,-22,18,-6,22,-16,4,-18,
18,-5,20,-18,6,-20,16,-8,
15,-18,5,-14,18,-6,14,-16,
6,-16,15,-4,16,-14,5,-12,
13,-5,14,-15,4,-13,14,-6,
10,-12,3,-9,12,-4,11,-9,
4,-11,10,-12,3,-10,11,-4,
11,-3,10,-8,12,-4,10,-11,
3,-10,9,-11,4,-8,12,-3,
10,-8,3,-9,8,-12,4,-10,
12,-4,8,-10,3,-9,10,-8,
4,-11,10,-3,12,-10,4,-11,
4],
"ABH": [4,8,2,-6,-9,-3,5,9,
3,-5,-10,-4,6,8,1,-7,
-9,-2,7,10,3,-6,-10,-1,
8,9,0,-8,-8,2,9,7,
-3,-10,-6,5,10,4,-18,-5,
13,9,-2,-9,-7,3,10,6,
-4,-10,-5,6,9,2,-8,-9,
1,10,7,-5,-10,-3,8,9,
-1,-9,-8,4,10,5,-6,-10,
-2,8,10,1,-9,-7,5,10,
3,-8,-9,0,9,8,-4,-10,
-4,7,10,3,-8,-9,2,10,
6,-5,-13,-3,8,9,0,-9,
-7,4,10,5,-7,-10,1,9,
7,-4,-10,-2,15,10,-3,-9,
-6,5,10,4,-8,-9,2,9,
6,-6,-10,-1,9,8,-4,-10,
-3,7,10,2,-9,-7,5,10,
4,-8,30,-35,48,-20,45,-30,
25,-40,52,-18,38,-45,22,-35,
40,-54,30,-25,45,-38,20,-42,
35,-22,45,-40,18,-35,48,-28,
30,-45,22,52,-62,35,-20,42,
-30,45,-52,25,-40,38,-22,60,
-45,30,-38,50,86,-30,42,-48,
-63,85,-35,20,-48,42,-25,50,
-40,28,91,-79,45,-30,52,-38,
25,-48,40,-22,55,-42,30,-50,
45,-30,20,-50,38,-25,48,-35,
-75,30,-45,52,-28,40,-50,22,
35,60,-42,25,-30,-50,45,-28,
40,-35,22,-48,35,-20,42,-38,
30,-40,25,-32,38,-22,30,-35,
28,-22,25,-20,18,-24,22,-20,
20,-18,24,-22,20,-16,22,-20,
18,-22,20,-18,24,-20,16,-22,
22,-20,18,-24,20,-18,22,-20,
20,-18,22,-27,18,-20,24,-18,
16,-22,20,-18,22,-20,18,-22,
20,-18,24,-20,18,-22,28,-16,
10],
"GWBC": [12,-18,22,-15,8,-20,16,-10,
20,-14,10,-22,18,-12,15,-20,
-16,22,-10,25,-18,12,-20,14,
18,-12,20,-16,10,-24,15,-18,
-14,20,-18,12,-22,16,-10,22,
15,-20,12,-18,24,-14,18,-12,
-20,14,-16,22,-12,18,-24,10,
16,-22,18,-10,20,-28,12,-16,
-12,18,-22,15,-16,20,-14,22,
20,-14,12,-20,18,-16,22,-10,
-18,22,-15,12,-20,14,-22,18,
14,-16,20,-22,10,-18,16,-14,
-22,12,-18,20,-14,22,-12,16,
18,-20,14,-12,22,-16,20,-18,
-14,16,-22,18,-10,20,-16,12,
20,-12,16,-20,18,-14,12,-22,
-16,22,-14,18,-20,12,-18,16,
12,-18,20,-16,22,-14,18,-12,
-20,14,-16,54,-41,30,-28,35,
30,-32,28,-35,25,-30,32,-28,
-28,30,-35,28,-30,26,-32,30,
32,-28,30,-25,35,-30,28,-32,
-30,35,-28,32,-30,28,-35,25,
-45,30,-32,28,-35,30,-28,32,
35,-40,45,-89,92,-50,40,-45,
45,69,-65,40,-38,45,-42,38,
58,-45,40,-42,38,-45,40,-63,
40,-25,32,-38,18,-30,35,-22,
28,-35,20,-32,38,-18,30,-35,
-25,35,-30,22,-38,30,-20,35,
30,-40,18,-28,35,-22,38,-30,
22,-30,38,-25,30,-35,20,-38,
35,-22,30,-38,25,-32,28,-45,
30,-25,35,-20,38,-30,22,-35,
25,-38,30,-22,35,-28,38,-20,
-30,22,-35,30,-25,38,-28,32,
38,-28,22,-35,30,-25,32,-38,
25,-32,35,-28,20,-35,30,-25,
30,-28,32,-30,28,-32,30,-28,
28,-30,25,-28,30,-25,28,-30,
10],
"GWBE": [15,-20,8,25,-12,18,-22,10,
-15,22,-8,18,-25,12,-18,20,
10,-22,25,-10,15,-20,12,-8,
18,-32,10,-15,22,-12,20,-25,
12,-18,22,-8,15,-25,18,-10,
25,-12,18,-20,10,-22,15,-18,
-10,20,-25,15,-12,22,-18,8,
20,-15,10,-25,18,-12,22,-20,
-18,25,-10,15,-22,12,-20,18,
12,-20,18,-12,25,-15,10,-22,
-15,12,-22,20,-10,18,-25,15,
22,-18,12,-20,15,-12,25,-10,
-20,15,-35,40,-18,22,-12,18,
-22,10,-18,25,-15,12,-20,15,
18,-22,12,-15,20,-25,10,-18,
-12,20,-18,22,-10,15,-22,18,
15,-10,22,-18,12,-20,25,-15,
-20,18,-12,25,-22,10,-18,20,
12,-25,18,-15,22,-12,20,-18,
-15,22,-20,12,-18,25,-10,15,
22,-18,30,-25,35,-30,25,-40,
50,-35,40,-30,35,-28,42,-38,
58,-40,35,-42,30,-38,45,-35,
40,-25,35,-45,20,-38,30,-45,
28,-42,45,-20,30,-40,18,-38,
45,-62,56,-30,50,-42,25,-48,
35,-50,20,-42,57,-25,45,-50,
30,-55,42,-28,55,-45,20,-52,
45,-30,-58,92,-40,50,-25,83,
-64,35,-55,48,-25,45,-50,30,
48,-62,30,-45,20,-48,40,-25,
38,-20,35,-42,15,-35,40,-28,
25,-38,40,-15,38,-30,22,-40,
40,-22,18,-40,35,-25,42,-15,
20,-42,35,-18,40,-35,28,-40,
35,-15,42,-35,20,-40,35,-28,
18,-35,38,-22,35,-38,20,-35,
38,-28,15,-38,42,-20,38,-30,
22,-38,40,-25,30,-42,35,-18,
42,-25,20,-40,35,-28,40,-35,
10]
}]},
"transform": [
{"flatten": ["t","KOGO","OCHT","NMED","RHEN","BEDO","OMED","BEMS","PROB","KOE","GLOK","PYRM","BGG","BHE","LAGB","AHRW","FACH","GWBD","BEUR","BINZ","BIW","ABH","GWBC","GWBE"]},
{"fold": ["KOGO","OCHT","NMED","RHEN","BEDO","OMED","BEMS","PROB","KOE","GLOK","PYRM","BGG","BHE","LAGB","AHRW","FACH","GWBD","BEUR","BINZ","BIW","ABH","GWBC","GWBE"], "as": ["s","v"]}
],
"spacing": {"row": 0},
"facet": {"row": {"field": "s", "type": "nominal",
  "sort": ["KOGO","OCHT","NMED","RHEN","BEDO","OMED","BEMS","PROB","KOE","GLOK","PYRM","BGG","BHE","LAGB","AHRW","FACH","GWBD","BEUR","BINZ","BIW","ABH","GWBC","GWBE"],
  "header": {"title": null, "labelAngle": 0, "labelOrient": "left", "labelAlign": "left", "labelBaseline": "middle", "labelPadding": 20, "labelFontSize": 37, "labelFont": "Liberation Sans", "labelColor": "black"}}},
"spec": {
  "width": 1800,
  "height": 160,
  "mark": {"type": "line", "color": "black", "strokeWidth": 1.6, "clip": true},
  "encoding": {
    "x": {"field": "t", "type": "quantitative", "scale": {"domain": [0, 40], "nice": false, "zero": false},
      "axis": {"values": [0, 20], "domain": false, "grid": false, "tickSize": -6, "tickColor": "black", "tickWidth": 1.5, "labelFontSize": 33, "labelFont": "Liberation Sans", "labelColor": "black", "labelPadding": 8, "labelFlush": false, "title": "Zeit[s]", "titleFontSize": 37, "titleFontWeight": "bold", "titleFont": "Liberation Sans", "titleColor": "black", "titleX": 732, "titleY": 80, "titleBaseline": "alphabetic", "titleAlign": "center"}},
    "y": {"field": "v", "type": "quantitative", "scale": {"domain": [-100, 100]}, "axis": null}
  }
}
}
